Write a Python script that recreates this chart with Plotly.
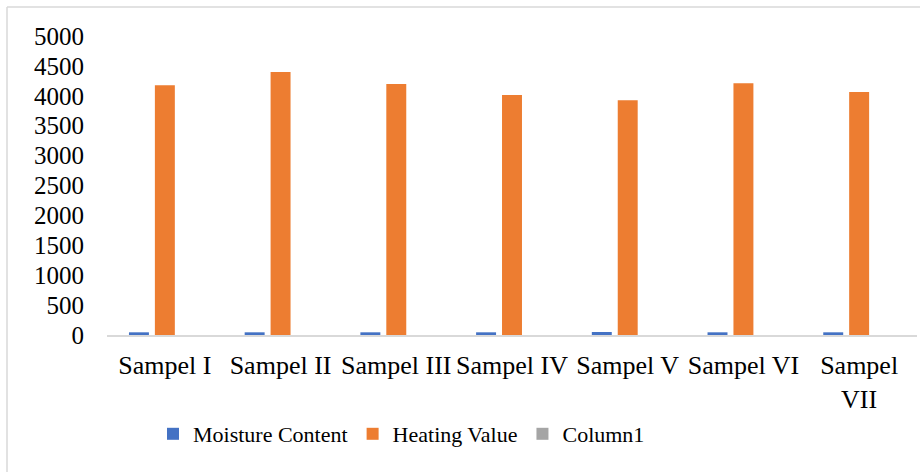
import plotly.graph_objects as go

categories = ["Sampel I", "Sampel II", "Sampel III", "Sampel IV", "Sampel V", "Sampel VI", "Sampel<br>VII"]
moisture = [45, 45, 45, 45, 50, 45, 45]
heating = [4175, 4397, 4197, 4013, 3924, 4208, 4063]
column1 = [0, 0, 0, 0, 0, 0, 0]
y_ticks = [0, 500, 1000, 1500, 2000, 2500, 3000, 3500, 4000, 4500, 5000]

FONT = "Liberation Serif"
L, R, T, B = 107, 3, 36, 137
W, H = 920, 472
pw, ph = W - L - R, H - T - B

def px_x(x):
    return (x - L) / pw

def px_y(y):
    return (H - B - y) / ph

fig = go.Figure()
fig.add_bar(name="Moisture Content", x=categories, y=moisture, marker=dict(color="#4472C4", line=dict(width=0)))
fig.add_bar(name="Heating Value", x=categories, y=heating, marker=dict(color="#ED7D31", line=dict(width=0)))
fig.add_bar(name="Column1", x=categories, y=column1, marker=dict(color="#A5A5A5", line=dict(width=0)))

fig.update_layout(
    width=W, height=H,
    margin=dict(l=L, r=R, t=T, b=B),
    paper_bgcolor="white", plot_bgcolor="white",
    barmode="group", bargap=0.328, bargroupgap=0.23,
    font=dict(family=FONT, size=26, color="#000000"),
    showlegend=True,
    legend=dict(orientation="h", x=px_x(153), xanchor="left", y=px_y(413), yanchor="top",
                font=dict(family=FONT, size=22, color="#000000"), traceorder="normal"),
    xaxis=dict(showgrid=False, showline=True, linecolor="#D9D9D9", linewidth=1.5,
               tickangle=0, ticks="", ticklabelstandoff=6,
               tickfont=dict(family=FONT, size=26, color="#000000")),
    yaxis=dict(range=[0, 5000], tickvals=y_ticks, showgrid=False, showline=False,
               zeroline=False, ticks="", ticklabelstandoff=22,
               tickfont=dict(family=FONT, size=25, color="#000000")),
    shapes=[
        dict(type="line", xref="paper", yref="paper", x0=px_x(7), x1=px_x(920), y0=px_y(7), y1=px_y(7),
             line=dict(color="#D9D9D9", width=1.5)),
        dict(type="line", xref="paper", yref="paper", x0=px_x(7), x1=px_x(7), y0=px_y(7), y1=px_y(472),
             line=dict(color="#D9D9D9", width=1.5)),
    ],
)

fig.write_html("out.html")
